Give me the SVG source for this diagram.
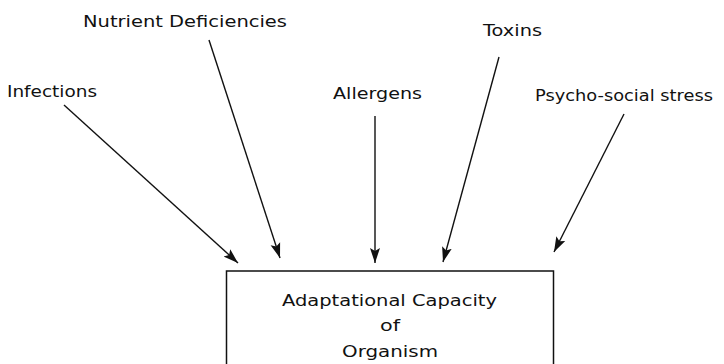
<svg xmlns="http://www.w3.org/2000/svg" width="724" height="364" viewBox="0 0 724 364">
  <style>
    .label { font-family: "DejaVu Sans", "Liberation Sans", Arial, sans-serif; font-size: 16.5px; fill: #111; }
    .box { fill: #fff; stroke: #111; stroke-width: 1.5; }
    .conn { stroke: #111; stroke-width: 1.4; fill: none; marker-end: url(#head); }
  </style>
  <defs>
    <marker id="head" markerUnits="userSpaceOnUse" markerWidth="16" markerHeight="12" viewBox="0 0 16 12" refX="15" refY="6" orient="auto">
      <path d="M0,1 L15,6 L0,11 L3,6 Z" fill="#111"/>
    </marker>
  </defs>
  <rect width="724" height="364" fill="#fff"/>

  <g id="connectors">
    <line class="conn" x1="64" y1="105" x2="238" y2="263"/>
    <line class="conn" x1="209" y1="40" x2="280" y2="258"/>
    <line class="conn" x1="375" y1="116" x2="375" y2="263"/>
    <line class="conn" x1="499" y1="57" x2="443" y2="262"/>
    <line class="conn" x1="624" y1="114" x2="554" y2="252"/>
  </g>

  <g id="infections"><text class="label" x="7" y="97" textLength="90" lengthAdjust="spacingAndGlyphs">Infections</text></g>
  <g id="nutrient-deficiencies"><text class="label" x="83" y="27" textLength="204" lengthAdjust="spacingAndGlyphs">Nutrient Deficiencies</text></g>
  <g id="allergens"><text class="label" x="333" y="99" textLength="89" lengthAdjust="spacingAndGlyphs">Allergens</text></g>
  <g id="toxins"><text class="label" x="483" y="36" textLength="59" lengthAdjust="spacingAndGlyphs">Toxins</text></g>
  <g id="psycho-social-stress"><text class="label" x="535" y="101" textLength="178" lengthAdjust="spacingAndGlyphs">Psycho-social stress</text></g>

  <g id="adaptational-capacity">
    <rect class="box" x="226.5" y="271" width="327" height="110"/>
    <text class="label" x="282" y="306" textLength="215" lengthAdjust="spacingAndGlyphs">Adaptational Capacity</text>
    <text class="label" x="380" y="331" textLength="20" lengthAdjust="spacingAndGlyphs">of</text>
    <text class="label" x="342" y="357" textLength="96" lengthAdjust="spacingAndGlyphs">Organism</text>
  </g>
</svg>
